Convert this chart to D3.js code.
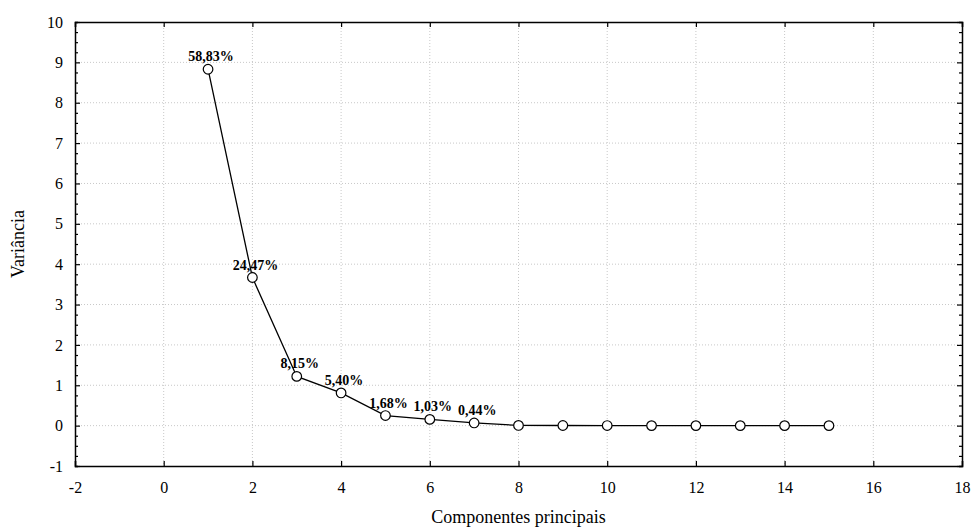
<!DOCTYPE html>
<html>
<head>
<meta charset="utf-8">
<script src="https://cdn.jsdelivr.net/npm/d3@7"></script>
<style>
  body { margin: 0; background: #fff; }
  svg text { font-family: "Liberation Serif", "Times New Roman", serif; fill: #000; }
</style>
</head>
<body>
<script>
// componentes e variancia (autovalores)
var components = [1, 2, 3, 4, 5, 6, 7, 8, 9, 10, 11, 12, 13, 14, 15];
var variance = [8.83, 3.67, 1.22, 0.81, 0.25, 0.155, 0.066, 0.005, 0.003, 0.002, 0.001, 0.001, 0, 0, 0];
var pctLabels = ['58,83%', '24,47%', '8,15%', '5,40%', '1,68%', '1,03%', '0,44%'];
var xTicks = [-2, 0, 2, 4, 6, 8, 10, 12, 14, 16, 18];
var yTicks = [-1, 0, 1, 2, 3, 4, 5, 6, 7, 8, 9, 10];

var width = 974, height = 532;
var margin = {left: 75, right: 12, top: 22, bottom: 66};

var svg = d3.select('body').append('svg')
  .attr('width', width).attr('height', height);

var x = d3.scaleLinear().domain([-2, 18]).range([margin.left, width - margin.right]);
var y = d3.scaleLinear().domain([-1, 10]).range([height - margin.bottom, margin.top]);

// grid
svg.append('g').selectAll('line')
  .data(xTicks.slice(1, -1))
  .enter().append('line')
  .attr('x1', function(d){ return x(d); }).attr('x2', function(d){ return x(d); })
  .attr('y1', y(10)).attr('y2', y(-1))
  .attr('stroke', '#c8c8c8').attr('stroke-dasharray', '1,2');

svg.append('g').selectAll('line')
  .data(yTicks.slice(1, -1))
  .enter().append('line')
  .attr('y1', function(d){ return y(d); }).attr('y2', function(d){ return y(d); })
  .attr('x1', x(-2)).attr('x2', x(18))
  .attr('stroke', '#c8c8c8').attr('stroke-dasharray', '1,2');

// axes (ticks drawn inward)
var minorY = d3.range(-1, 10.01, 0.25);
var plain = function(d){ return String(d); };

var gBottom = svg.append('g').attr('transform', 'translate(0,' + y(-1) + ')')
  .call(d3.axisBottom(x).tickValues(xTicks).tickSize(-5).tickPadding(16).tickFormat(plain));
var gTop = svg.append('g').attr('transform', 'translate(0,' + y(10) + ')')
  .call(d3.axisTop(x).tickValues(xTicks).tickSize(-5).tickFormat(''));
var gLeft = svg.append('g').attr('transform', 'translate(' + x(-2) + ',0)')
  .call(d3.axisLeft(y).tickValues(minorY).tickSize(-3).tickPadding(12)
    .tickFormat(function(d){ return Number.isInteger(d) ? String(d) : ''; }));
var gRight = svg.append('g').attr('transform', 'translate(' + x(18) + ',0)')
  .call(d3.axisRight(y).tickValues(minorY).tickSize(-3).tickFormat(''));

gLeft.selectAll('.tick').filter(function(d){ return Number.isInteger(d); })
  .select('line').attr('x2', 5);
gRight.selectAll('.tick').filter(function(d){ return Number.isInteger(d); })
  .select('line').attr('x2', -5);

[gBottom, gTop, gLeft, gRight].forEach(function(g){
  g.select('.domain').attr('stroke', '#000').attr('stroke-width', 1.5);
  g.selectAll('.tick line').attr('stroke', '#000').attr('stroke-width', 1.2);
  g.selectAll('.tick text').style('font-size', '16px')
    .style('font-family', '"Liberation Serif", "Times New Roman", serif');
});

// line + points
var line = d3.line()
  .x(function(d, i){ return x(components[i]); })
  .y(function(d){ return y(d); });

svg.append('path')
  .datum(variance)
  .attr('d', line)
  .attr('fill', 'none').attr('stroke', '#000').attr('stroke-width', 1.3);

svg.selectAll('circle')
  .data(variance)
  .enter().append('circle')
  .attr('cx', function(d, i){ return x(components[i]); })
  .attr('cy', function(d){ return y(d); })
  .attr('r', 4.8)
  .attr('fill', '#fff').attr('stroke', '#000').attr('stroke-width', 1.2);

svg.selectAll('text.pct')
  .data(pctLabels)
  .enter().append('text')
  .attr('class', 'pct')
  .attr('x', function(d, i){ return x(components[i]) + 3; })
  .attr('y', function(d, i){ return y(variance[i]) - 8; })
  .attr('text-anchor', 'middle')
  .style('font-size', '14px')
  .style('font-weight', 'bold')
  .text(function(d){ return d; });

// titulos
svg.append('text')
  .attr('x', (x(-2) + x(18)) / 2).attr('y', 523)
  .attr('text-anchor', 'middle').style('font-size', '18px')
  .text('Componentes principais');

svg.append('text')
  .attr('transform', 'translate(24,' + ((y(-1) + y(10)) / 2) + ') rotate(-90)')
  .attr('text-anchor', 'middle').style('font-size', '18px')
  .text('Variância');
</script>
</body>
</html>
